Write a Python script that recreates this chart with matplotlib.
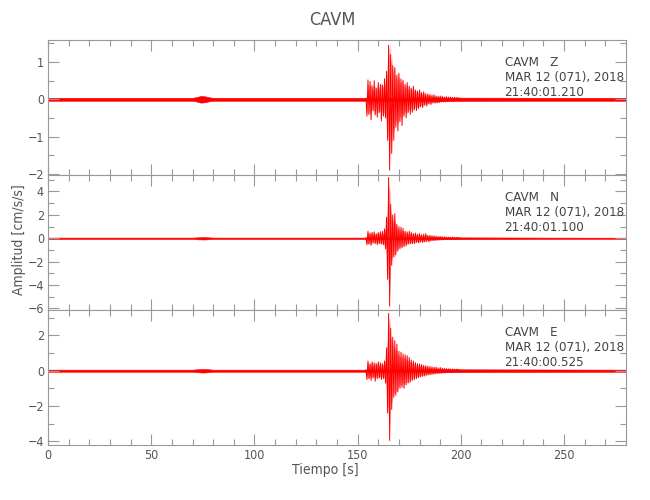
#!/usr/bin/env python3

import numpy as np
import matplotlib
matplotlib.use('Agg')
import matplotlib.pyplot as plt
from matplotlib.ticker import MultipleLocator

plt.rcdefaults()
plt.rcParams['font.family'] = ['DejaVu Sans']
plt.rcParams['font.stretch'] = 'condensed'

# Estacion y componentes
station = 'CAVM'
components = ['Z', 'N', 'E']
fecha = 'MAR 12 (071), 2018'
horas = ['21:40:01.210', '21:40:01.100', '21:40:00.525']

# Envolvente del ruido de fondo (s, semi-amplitud cm/s/s)
t_ruido = [0, 70, 72, 74, 76, 78, 80, 154, 200, 240, 280]
ruido_z = [0.04, 0.04, 0.06, 0.09, 0.08, 0.055, 0.04, 0.04, 0.045, 0.04, 0.04]
ruido_n = [0.06, 0.06, 0.08, 0.10, 0.10, 0.08, 0.06, 0.06, 0.08, 0.06, 0.05]
ruido_e = [0.06, 0.06, 0.08, 0.10, 0.10, 0.08, 0.06, 0.06, 0.08, 0.07, 0.06]

# Picos del evento, cada 0.5 s desde 154 s
t0_evento = 154.0
dt_evento = 0.5
picos_z = [0.03, -0.45, 0.52, -0.40, 0.48, -0.55, 0.35, -0.30, 0.50, -0.42,
           0.30, -0.48, 0.45, -0.35, 0.40, -0.58, 0.38, -0.45, 0.55, -0.50,
           0.75, -1.10, 1.45, -1.90, 1.20, -1.45, 0.90, -1.10, 0.85, -0.75,
           0.65, -0.85, 0.70, -0.60, 0.55, -0.70, 0.50, -0.45, 0.40, -0.50,
           0.45, -0.35, 0.35, -0.40, 0.30, -0.35, 0.35, -0.28, 0.25, -0.30,
           0.22, -0.25, 0.25, -0.20, 0.18, -0.22, 0.20, -0.16, 0.15, -0.18,
           0.14, -0.12, 0.13, -0.14, 0.11, -0.10, 0.12, -0.10, 0.09, -0.10,
           0.08, -0.09, 0.09, -0.07, 0.08, -0.07, 0.06, -0.07, 0.07, -0.06,
           0.06, -0.05, 0.06, -0.05, 0.05, -0.05, 0.05, -0.04, 0.05, -0.04,
           0.04, -0.04]
picos_n = [0.05, -0.55, 0.60, -0.50, 0.45, -0.60, 0.50, -0.40, 0.55, -0.45,
           0.40, -0.55, 0.50, -0.45, 0.55, -0.50, 0.60, -0.55, 0.80, -0.90,
           1.80, -3.50, 5.20, -5.80, 2.90, -2.30, 2.00, -1.60, 2.10, -1.40,
           1.20, -1.10, 1.00, -0.90, 0.95, -0.80, 0.85, -0.70, 0.60, -0.65,
           0.55, -0.50, 0.60, -0.45, 0.50, -0.45, 0.40, -0.45, 0.45, -0.35,
           0.35, -0.40, 0.40, -0.30, 0.30, -0.35, 0.35, -0.30, 0.40, -0.25,
           0.25, -0.30, 0.25, -0.22, 0.22, -0.20, 0.20, -0.18, 0.18, -0.17,
           0.16, -0.15, 0.15, -0.14, 0.13, -0.13, 0.12, -0.11, 0.11, -0.10,
           0.10, -0.10, 0.09, -0.09, 0.09, -0.08, 0.08, -0.08, 0.07, -0.07,
           0.07, -0.06]
picos_e = [0.05, -0.50, 0.55, -0.45, 0.40, -0.55, 0.50, -0.40, 0.45, -0.60,
           0.40, -0.45, 0.50, -0.40, 0.45, -0.50, 0.40, -0.45, 0.55, -0.70,
           1.30, -2.40, 3.25, -3.95, 2.40, -2.20, 1.90, -1.50, 1.70, -1.40,
           1.50, -1.20, 1.10, -1.00, 1.05, -0.95, 0.95, -1.00, 0.90, -0.80,
           0.85, -0.70, 0.75, -0.65, 0.60, -0.55, 0.55, -0.50, 0.45, -0.45,
           0.40, -0.40, 0.38, -0.35, 0.35, -0.32, 0.30, -0.30, 0.28, -0.26,
           0.26, -0.24, 0.24, -0.22, 0.22, -0.20, 0.20, -0.18, 0.20, -0.16,
           0.16, -0.15, 0.18, -0.14, 0.14, -0.13, 0.13, -0.12, 0.12, -0.11,
           0.11, -0.10, 0.10, -0.10, 0.10, -0.09, 0.09, -0.09, 0.09, -0.08,
           0.08, -0.08]

ruidos = [ruido_z, ruido_n, ruido_e]
picos = [picos_z, picos_n, picos_e]

# Limites y marcas por panel
ylims = [(-2.03, 1.59), (-6.13, 5.41), (-4.21, 3.44)]
ymajor = [1, 2, 2]
yminor = [0.5, 1, 1]

gris = '#999999'
texto = '#555555'

fig, axes = plt.subplots(3, 1, figsize=(6.5, 5), dpi=100, sharex=True)
fig.subplots_adjust(left=0.074, right=0.963, bottom=0.11, top=0.92, hspace=0)

for i, ax in enumerate(axes):
    t_evt = t0_evento + dt_evento * np.arange(len(picos[i]))
    p = np.array(picos[i])
    amp = np.array(ruidos[i])
    ax.fill_between(t_ruido, -amp, amp, color='red', lw=0.4)
    # halo rosado del evento (envolvente de los picos leidos)
    ax.fill_between(t_evt, -0.8 * np.abs(p), 0.8 * np.abs(p), color='red',
                    alpha=0.35, lw=0)
    ax.plot(t_evt, p, color='red', lw=0.7)

    ax.set_xlim(0, 280)
    ax.set_ylim(*ylims[i])
    ax.xaxis.set_major_locator(MultipleLocator(50))
    ax.xaxis.set_minor_locator(MultipleLocator(10))
    ax.yaxis.set_major_locator(MultipleLocator(ymajor[i]))
    ax.yaxis.set_minor_locator(MultipleLocator(yminor[i]))
    ax.tick_params(which='both', direction='in', top=True, right=True,
                   color=gris, labelcolor=texto, labelsize=9, width=0.8, pad=3)
    ax.tick_params(which='major', length=8)
    ax.tick_params(which='minor', length=4)
    for s in ax.spines.values():
        s.set_color(gris)
        s.set_linewidth(0.8)

    ax.text(0.79, 0.885, f'{station}   {components[i]}\n{fecha}\n{horas[i]}',
            transform=ax.transAxes, ha='left', va='top', fontsize=9.5,
            color='#444444', linespacing=1.2)

fig.text(0.512, 0.96, station, ha='center', va='center', fontsize=13, color=texto)
fig.text(0.5, 0.06, 'Tiempo [s]', ha='center', va='center', fontsize=10, color=texto)
fig.text(0.029, 0.52, 'Amplitud [cm/s/s]', ha='center', va='center',
         rotation=90, fontsize=10, color=texto)

plt.savefig('out.png', dpi=100)
